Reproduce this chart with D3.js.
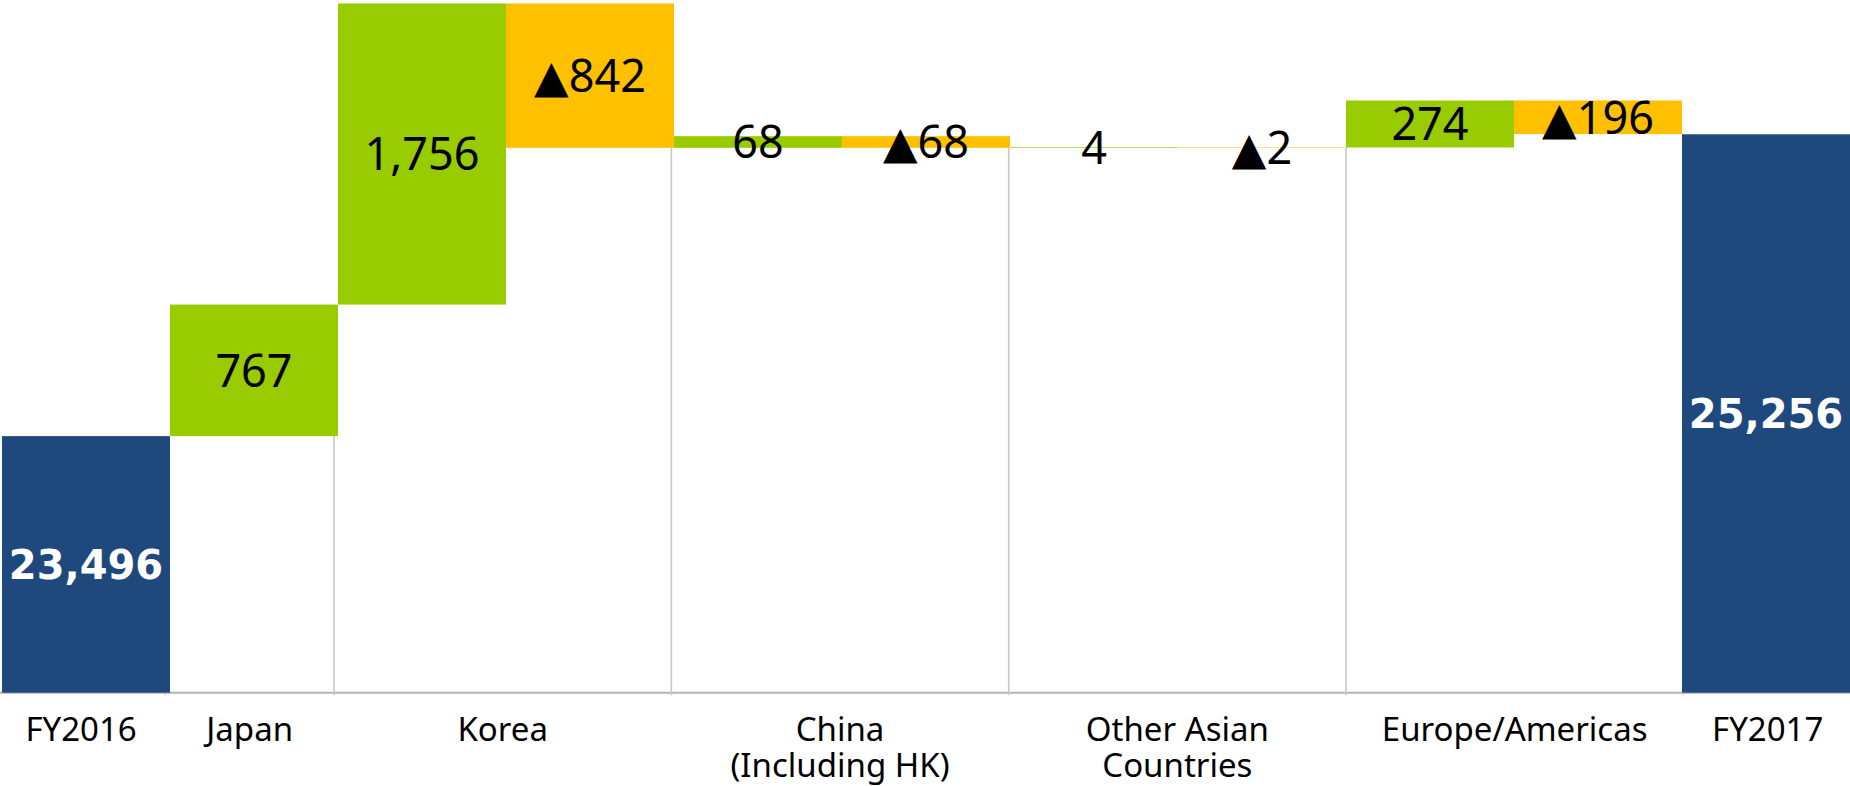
<!DOCTYPE html>
<html>
<head>
<meta charset="utf-8">
<script src="https://cdn.jsdelivr.net/npm/d3@7"></script>
<style>
  html, body { margin: 0; padding: 0; background: #ffffff; }
  svg { display: block; }
</style>
</head>
<body>
<svg id="chart" width="1850" height="786"></svg>
<script>
// ---- data ----
const startLabel = "FY2016";
const startValue = 23496;
const endLabel = "FY2017";
const endValue = 25256;
const regions = ["Japan", "Korea", "China (Including HK)", "Other Asian Countries", "Europe/Americas"];
const regionLines = [["Japan"], ["Korea"], ["China", "(Including HK)"], ["Other Asian", "Countries"], ["Europe/Americas"]];
const increases = [767, 1756, 68, 4, 274];
const decreases = [null, 842, 68, 2, 196];   // shown as ▲ (negative)
const yDomain = [22000, 26039];

// ---- colours / styles ----
const navy = "#1F497D", green = "#99CC00", orange = "#FFC000";
const W = 1850, H = 786;
const baseY = 692.7;

// ---- build slots ----
const slots = [];
slots.push({key: "s", group: startLabel, type: "total", lo: yDomain[0], hi: startValue, label: d3.format(",")(startValue)});
let run = startValue;
const groups = [{name: startLabel, lines: [startLabel], keys: ["s"], base: null}];
regions.forEach((r, i) => {
  const g = {name: r, lines: regionLines[i], keys: [], base: run};
  const inc = increases[i];
  if (inc != null) {
    slots.push({key: r + "+", group: r, type: "inc", lo: run, hi: run + inc, label: d3.format(",")(inc)});
    g.keys.push(r + "+");
    run += inc;
  }
  const dec = decreases[i];
  if (dec != null) {
    slots.push({key: r + "-", group: r, type: "dec", lo: run - dec, hi: run, label: "\u25B2" + d3.format(",")(dec)});
    g.keys.push(r + "-");
    run -= dec;
  }
  groups.push(g);
});
slots.push({key: "e", group: endLabel, type: "total", lo: yDomain[0], hi: endValue, label: d3.format(",")(endValue)});
groups.push({name: endLabel, lines: [endLabel], keys: ["e"], base: null});

const keys = slots.map(d => d.key);
const x = d3.scaleBand().domain(keys).range([2, 1850]).paddingInner(0).paddingOuter(0);
const xAxisScale = d3.scaleBand().domain(keys).range([-3.3, 1852]).paddingInner(0).paddingOuter(0);
const y = d3.scaleLinear().domain(yDomain).range([baseY, 0]);

const svg = d3.select("#chart");

// baseline
svg.append("line")
  .attr("x1", 0).attr("x2", W)
  .attr("y1", baseY).attr("y2", baseY)
  .attr("stroke", "#B4B4B4").attr("stroke-width", 2);

// separators between groups (from baseline up to the running total at boundary)
const seps = [];
for (let i = 1; i < groups.length; i++) {
  const g = groups[i];
  const firstKey = g.keys[0];
  const level = g.base != null ? g.base : run;
  seps.push({x: xAxisScale(firstKey), level: level});
}
svg.append("g").selectAll("line").data(seps).join("line")
  .attr("x1", d => d.x).attr("x2", d => d.x)
  .attr("y1", d => y(d.level)).attr("y2", baseY + 2.5)
  .attr("stroke", "#C8C8C8").attr("stroke-width", 1.6);

// bars
const colorOf = t => t === "total" ? navy : (t === "inc" ? green : orange);
svg.append("g").selectAll("rect").data(slots).join("rect")
  .attr("x", d => x(d.key))
  .attr("width", x.bandwidth())
  .attr("y", d => y(d.hi))
  .attr("height", d => Math.max(0.5, y(d.lo) - y(d.hi)))
  .attr("fill", d => colorOf(d.type));

// value labels
svg.append("g").selectAll("text").data(slots).join("text")
  .attr("x", d => x(d.key) + x.bandwidth() / 2)
  .attr("y", d => (y(d.lo) + y(d.hi)) / 2)
  .attr("dy", "0.36em")
  .attr("text-anchor", "middle")
  .attr("font-family", d => d.type === "total" ? "'DejaVu Sans', Verdana, sans-serif" : "'Noto Sans', 'DejaVu Sans', sans-serif")
  .attr("font-weight", d => d.type === "total" ? "bold" : "normal")
  .attr("font-size", d => d.type === "total" ? 40 : 45)
  .attr("fill", d => d.type === "total" ? "#FFFFFF" : "#000000")
  .text(d => d.label);

// category labels
const catG = svg.append("g");
groups.forEach(g => {
  const x0 = xAxisScale(g.keys[0]);
  const x1 = xAxisScale(g.keys[g.keys.length - 1]) + xAxisScale.bandwidth();
  const cx = (x0 + x1) / 2;
  g.lines.forEach((ln, i) => {
    catG.append("text")
      .attr("text-anchor", "middle")
      .attr("font-family", "'Noto Sans', 'DejaVu Sans', sans-serif")
      .attr("font-size", 33)
      .attr("fill", "#000000")
      .attr("x", cx).attr("y", 741 + i * 36)
      .text(ln);
  });
});
</script>
</body>
</html>
